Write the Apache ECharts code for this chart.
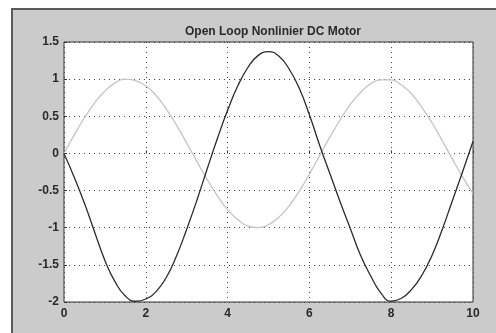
<!DOCTYPE html>
<html>
<head>
<meta charset="utf-8">
<script src="https://cdn.jsdelivr.net/npm/echarts@6/dist/echarts.min.js"></script>
<style>
  html, body { margin: 0; padding: 0; background: #fff; }
  #chart { width: 496px; height: 333px; }
</style>
</head>
<body>
<div id="chart"></div>
<script>
// 图表数据
const titleText = 'Open Loop Nonlinier DC Motor';
const time = [0, 0.25, 0.5, 0.75, 1, 1.25, 1.5, 1.75, 2, 2.25, 2.5, 2.75, 3, 3.25, 3.5, 3.75, 4, 4.25, 4.5, 4.75,
  5, 5.25, 5.5, 5.75, 6, 6.25, 6.5, 6.75, 7, 7.25, 7.5, 7.75, 8, 8.25, 8.5, 8.75, 9, 9.25, 9.5, 9.75, 10];
// 电机响应（深色）
const motorOut = [0, -0.32, -0.67, -1.06, -1.44, -1.73, -1.92, -1.99, -1.96, -1.86, -1.67, -1.38, -1.02, -0.63, -0.21, 0.2, 0.58, 0.91, 1.16, 1.32,
  1.37, 1.31, 1.14, 0.88, 0.52, 0.11, -0.27, -0.65, -1.01, -1.37, -1.65, -1.88, -1.99, -1.95, -1.83, -1.64, -1.37, -1.02, -0.63, -0.24, 0.16];
// 输入信号（浅色）
const inputSig = [0, 0.25, 0.48, 0.68, 0.84, 0.95, 1, 0.98, 0.91, 0.78, 0.6, 0.38, 0.14, -0.11, -0.35, -0.57, -0.76, -0.89, -0.98, -1,
  -0.96, -0.86, -0.71, -0.51, -0.28, -0.03, 0.22, 0.45, 0.66, 0.82, 0.94, 0.99, 0.99, 0.92, 0.8, 0.62, 0.41, 0.17, -0.08, -0.32, -0.54];

const pairs = (ys) => time.map((t, i) => [t, ys[i]]);

const axisFont = { color: '#2a2a2a', fontSize: 12, fontWeight: 'bold', fontFamily: 'Liberation Sans' };
const gridDots = { show: true, lineStyle: { color: '#444', type: [1, 4], width: 1 } };

const chart = echarts.init(document.getElementById('chart'), null, { renderer: 'canvas' });
chart.setOption({
  backgroundColor: '#fff',
  animation: false,
  title: {
    text: titleText, left: 268, top: 21, textAlign: 'center',
    textStyle: { color: '#2a2a2a', fontSize: 12, fontWeight: 'bold', fontFamily: 'Liberation Sans' },
  },
  // 灰色窗口底板
  graphic: [{
    type: 'rect', z: -10, silent: true,
    shape: { x: 12, y: 9, width: 500, height: 340 },
    style: { fill: '#cbcbcb', stroke: '#5a5a5a', lineWidth: 2 },
  }],
  grid: { left: 64, top: 42, width: 409, height: 260, show: true, backgroundColor: '#fff', borderColor: '#333', borderWidth: 1 },
  xAxis: {
    type: 'value', min: 0, max: 10, interval: 2,
    axisLine: { show: false },
    axisTick: { inside: true, length: 3, lineStyle: { color: '#333' } },
    axisLabel: { ...axisFont, margin: 6 },
    splitLine: gridDots,
  },
  yAxis: {
    type: 'value', min: -2, max: 1.5, interval: 0.5,
    axisLine: { show: false },
    axisTick: { show: true, inside: true, length: 3, lineStyle: { color: '#333' } },
    axisLabel: { ...axisFont, margin: 5 },
    splitLine: gridDots,
  },
  series: [
    { name: 'input', type: 'line', data: pairs(inputSig), symbol: 'none', smooth: true, lineStyle: { color: '#c4c4c4', width: 1.3 } },
    { name: 'motor', type: 'line', data: pairs(motorOut), symbol: 'none', smooth: true, lineStyle: { color: '#2b2b2b', width: 1.3 } },
  ],
});
</script>
</body>
</html>
